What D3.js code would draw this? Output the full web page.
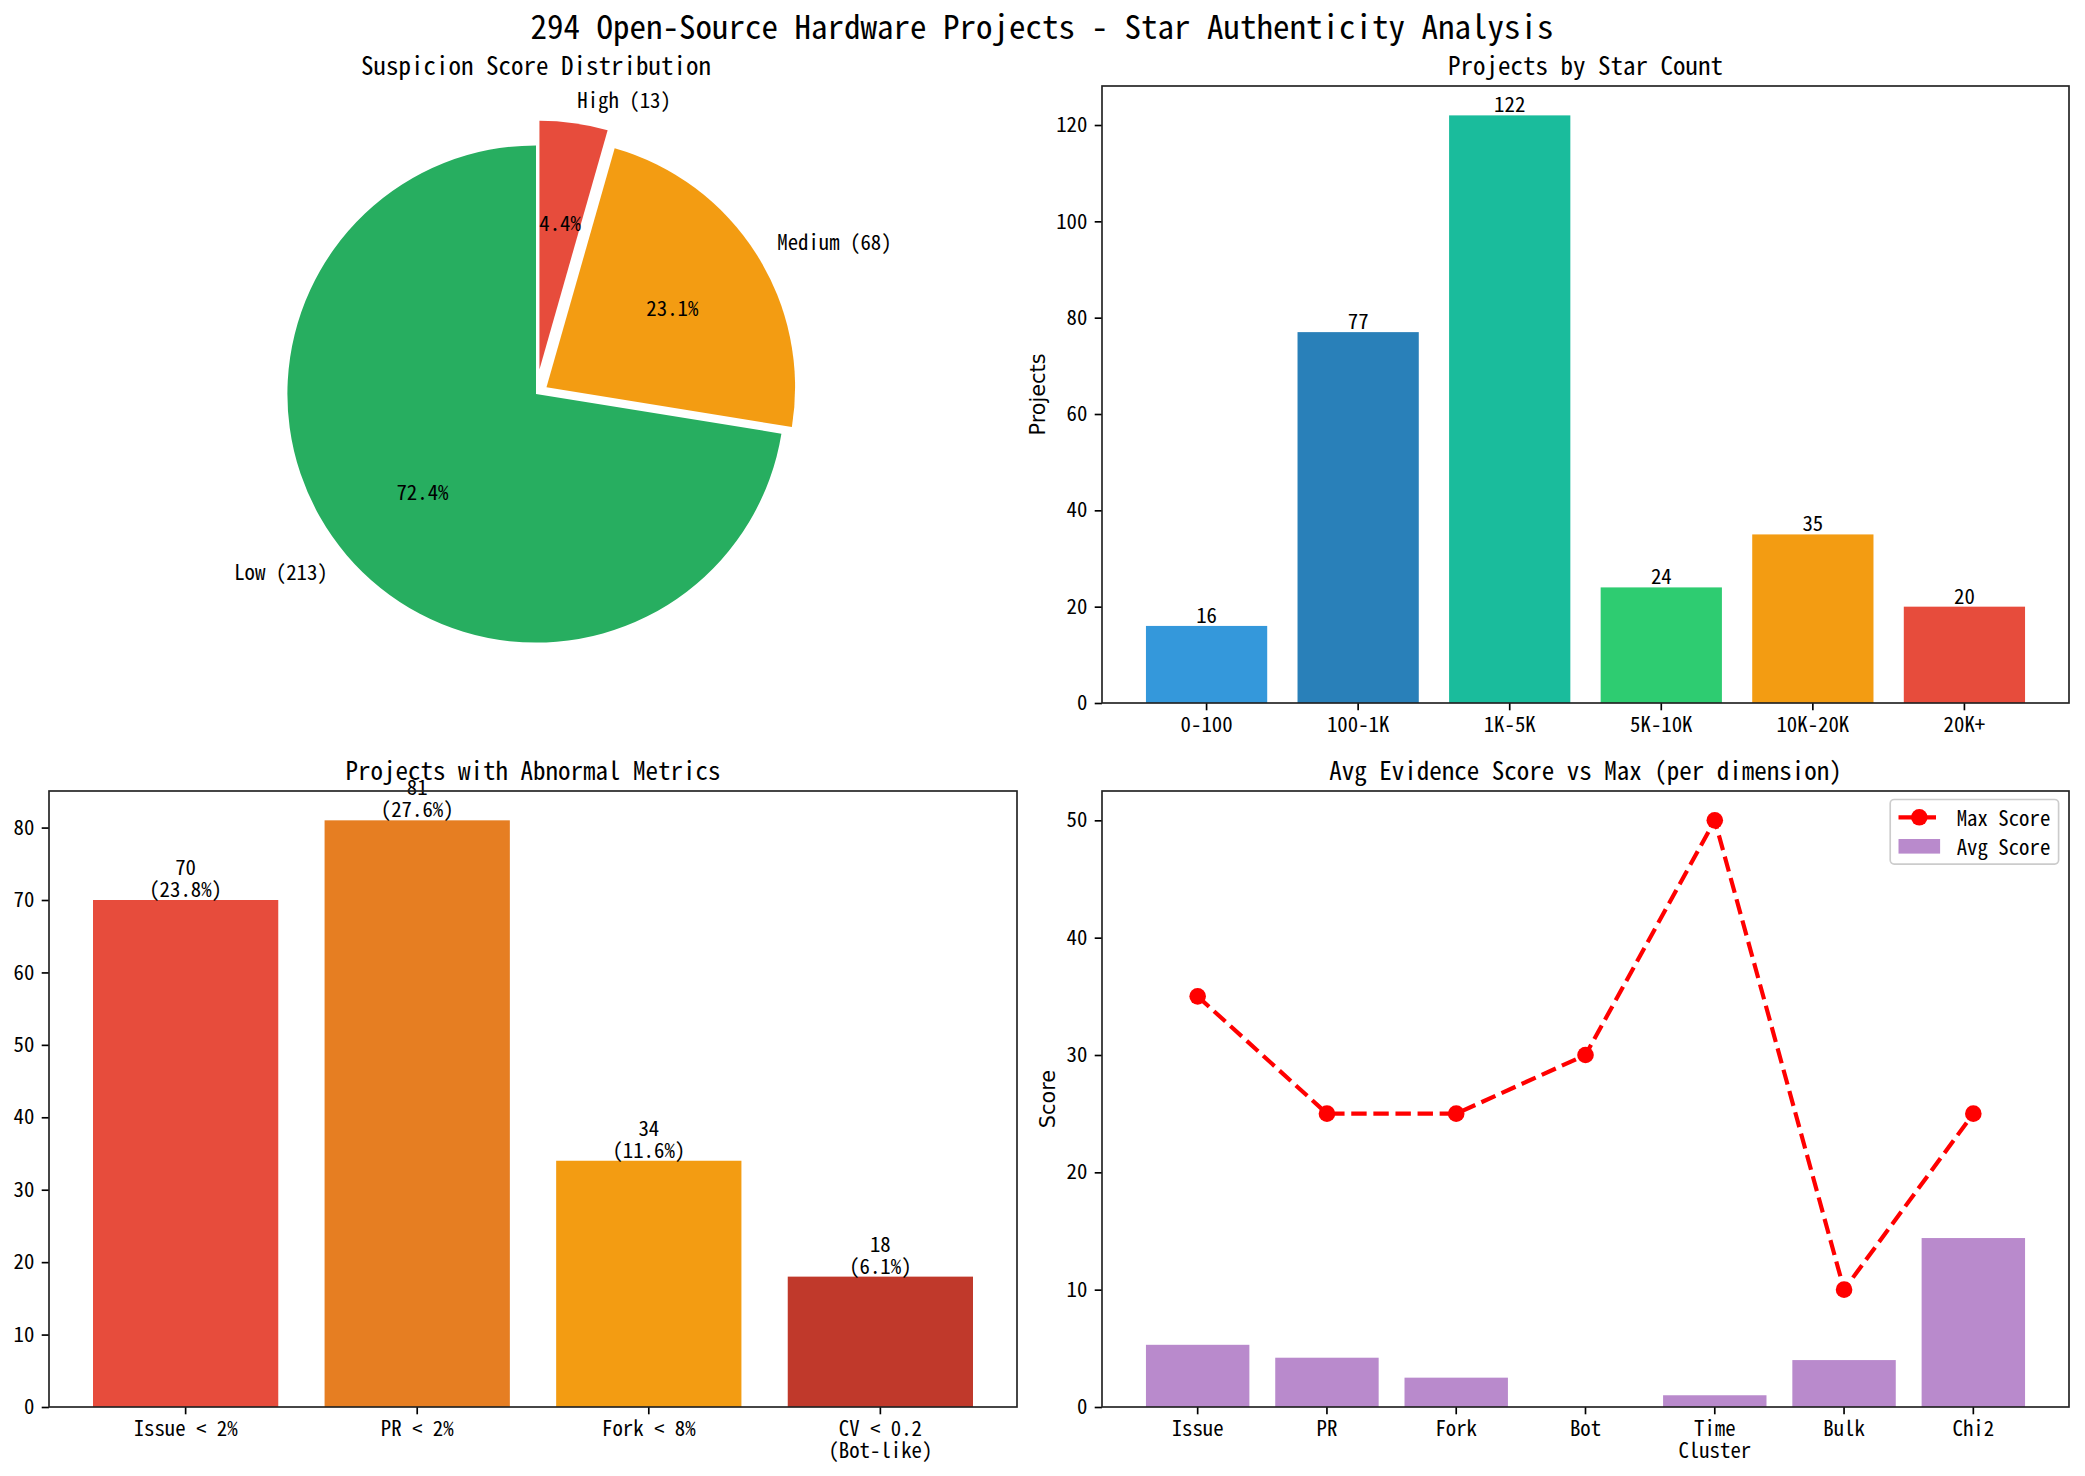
<!DOCTYPE html>
<html>
<head>
<meta charset="utf-8">
<script src="https://cdn.jsdelivr.net/npm/d3@7"></script>
<style>
  body { margin: 0; background: #fff; }
  text { font-family: 'Noto Sans Mono CJK SC', 'Noto Sans CJK SC', monospace; fill: #000; }
  .ylab { font-family: 'DejaVu Sans', sans-serif; }
</style>
</head>
<body>
<svg id="fig" width="2085" height="1476"></svg>
<script>
// ---- data ----
var riskLabels = ["Low", "Medium", "High"];
var riskCounts = [213, 68, 13];

var starBins = ["0-100", "100-1K", "1K-5K", "5K-10K", "10K-20K", "20K+"];
var starCounts = [16, 77, 122, 24, 35, 20];
var starTicks = [0, 20, 40, 60, 80, 100, 120];

var totalProjects = 294;
var abnormalNames = ["Issue < 2%", "PR < 2%", "Fork < 8%", "CV < 0.2\n(Bot-like)"];
var abnormalCounts = [70, 81, 34, 18];
var abnormalTicks = [0, 10, 20, 30, 40, 50, 60, 70, 80];

var dimNames = ["Issue", "PR", "Fork", "Bot", "Time\nCluster", "Bulk", "Chi2"];
var avgScores = [5.3, 4.2, 2.5, 0, 1.0, 4.0, 14.4];
var maxScores = [35, 25, 25, 30, 50, 10, 25];
var scoreTicks = [0, 10, 20, 30, 40, 50];

// ---- styles ----
var riskColors = ["#27ae60", "#f39c12", "#e74c3c"];
var riskExplode = [0, 0.05, 0.1];
var starColors = ["#3498db", "#2980b9", "#1abc9c", "#2ecc71", "#f39c12", "#e74c3c"];
var abnormalColors = ["#e74c3c", "#e67e22", "#f39c12", "#c0392b"];

var FS = 20.8, TITLE_FS = 25, TICK = 7.3, LINE = 22;
var svg = d3.select("#fig");

svg.append("text")
    .attr("x", 1042).attr("y", 25)
    .attr("text-anchor", "middle").attr("dominant-baseline", "central")
    .style("font-size", "33px").style("font-weight", 500)
    .text(totalProjects + " Open-Source Hardware Projects - Star Authenticity Analysis");

function multiline(sel) {
  sel.each(function() {
    var t = d3.select(this), parts = t.text().split("\n");
    if (parts.length < 2) return;
    t.text(null);
    parts.forEach(function(p, i) {
      t.append("tspan").attr("x", 0).attr("dy", i ? LINE : null).text(p);
    });
  });
}

function panel(box, cats, yMax, ticks, title) {
  var w = box.right - box.left, h = box.bottom - box.top, n = cats.length;
  var g = svg.append("g").attr("transform", "translate(" + box.left + "," + box.top + ")");
  var x = d3.scaleBand().domain(cats).range([0, w])
      .paddingInner(0.2).paddingOuter(0.05 * (n - 0.2));
  var y = d3.scaleLinear().domain([0, yMax * 1.05]).range([h, 0]);
  svg.append("text")
      .attr("x", box.left + w / 2).attr("y", box.top - 22)
      .attr("text-anchor", "middle").attr("dominant-baseline", "central")
      .style("font-size", TITLE_FS + "px").text(title);
  return {g: g, x: x, y: y, w: w, h: h, box: box};
}

function finishAxes(p, ticks, ylabel) {
  var xa = p.g.append("g")
      .attr("transform", "translate(0," + p.h + ")")
      .call(d3.axisBottom(p.x).tickSize(TICK).tickPadding(TICK).tickSizeOuter(0));
  var ya = p.g.append("g")
      .call(d3.axisLeft(p.y).tickValues(ticks).tickFormat(d3.format("d"))
        .tickSize(TICK).tickPadding(TICK).tickSizeOuter(0));
  [xa, ya].forEach(function(a) {
    a.select(".domain").remove();
    a.selectAll("line").attr("stroke", "#000").attr("stroke-width", 1.67);
    a.selectAll("text").style("font-size", FS + "px").attr("fill", "#000");
  });
  xa.selectAll("text").call(multiline);
  p.g.append("rect")
      .attr("width", p.w).attr("height", p.h)
      .attr("fill", "none").attr("stroke", "#222").attr("stroke-width", 1.67);
  if (ylabel) {
    var bb = ya.node().getBBox();
    p.g.append("text")
        .attr("class", "ylab")
        .attr("transform", "translate(" + (bb.x - 8.3 - 10) + "," + (p.h / 2) + ") rotate(-90)")
        .attr("text-anchor", "middle").attr("dominant-baseline", "central")
        .style("font-size", FS + "px").text(ylabel);
  }
}

// ---- pie ----
(function() {
  var cx = 536, cy = 394, R = 248.6;
  svg.append("text")
      .attr("x", cx).attr("y", 64)
      .attr("text-anchor", "middle").attr("dominant-baseline", "central")
      .style("font-size", TITLE_FS + "px").text("Suspicion Score Distribution");
  var total = d3.sum(riskCounts);
  var arcs = d3.pie().sort(null).startAngle(0).endAngle(-2 * Math.PI)(riskCounts);
  var arc = d3.arc().innerRadius(0).outerRadius(R);
  var g = svg.append("g").attr("transform", "translate(" + cx + "," + cy + ")");
  arcs.forEach(function(a, i) {
    var m = (a.startAngle + a.endAngle) / 2, dx = Math.sin(m), dy = -Math.cos(m);
    var e = riskExplode[i] * R;
    g.append("path")
        .attr("d", arc(a))
        .attr("transform", "translate(" + dx * e + "," + dy * e + ")")
        .attr("fill", riskColors[i]);
    var lr = (riskExplode[i] + 1.1) * R;
    g.append("text")
        .attr("x", dx * lr).attr("y", dy * lr)
        .attr("text-anchor", dx > 0 ? "start" : "end")
        .attr("dominant-baseline", "central")
        .style("font-size", FS + "px")
        .text(riskLabels[i] + " (" + riskCounts[i] + ")");
    var pr = (riskExplode[i] + 0.6) * R;
    g.append("text")
        .attr("x", dx * pr).attr("y", dy * pr)
        .attr("text-anchor", "middle").attr("dominant-baseline", "central")
        .style("font-size", FS + "px")
        .text(d3.format(".1f")(a.value / total * 100) + "%");
  });
})();

// ---- projects by star count ----
(function() {
  var p = panel({left: 1102, right: 2069, top: 86, bottom: 703}, starBins,
      d3.max(starCounts), starTicks, "Projects by Star Count");
  p.g.selectAll(".starBar")
    .data(starCounts)
    .enter().append("rect")
      .attr("class", "starBar")
      .attr("x", function(d, i) { return p.x(starBins[i]); })
      .attr("y", function(d) { return p.y(d); })
      .attr("width", p.x.bandwidth())
      .attr("height", function(d) { return p.h - p.y(d); })
      .attr("fill", function(d, i) { return starColors[i]; });
  p.g.selectAll(".starLbl")
    .data(starCounts)
    .enter().append("text")
      .attr("x", function(d, i) { return p.x(starBins[i]) + p.x.bandwidth() / 2; })
      .attr("y", function(d) { return p.y(d) - 3; })
      .attr("text-anchor", "middle")
      .style("font-size", FS + "px")
      .text(function(d) { return d; });
  finishAxes(p, starTicks, "Projects");
})();

// ---- abnormal metrics ----
(function() {
  var p = panel({left: 49, right: 1017, top: 791, bottom: 1407}, abnormalNames,
      d3.max(abnormalCounts), abnormalTicks, "Projects with Abnormal Metrics");
  p.g.selectAll(".abBar")
    .data(abnormalCounts)
    .enter().append("rect")
      .attr("x", function(d, i) { return p.x(abnormalNames[i]); })
      .attr("y", function(d) { return p.y(d); })
      .attr("width", p.x.bandwidth())
      .attr("height", function(d) { return p.h - p.y(d); })
      .attr("fill", function(d, i) { return abnormalColors[i]; });
  var lbl = p.g.selectAll(".abLbl")
    .data(abnormalCounts)
    .enter().append("text")
      .attr("text-anchor", "middle")
      .style("font-size", FS + "px");
  lbl.each(function(d, i) {
    var t = d3.select(this), cx = p.x(abnormalNames[i]) + p.x.bandwidth() / 2;
    t.append("tspan").attr("x", cx).attr("y", p.y(d) - 3 - LINE).text(d);
    t.append("tspan").attr("x", cx).attr("y", p.y(d) - 3)
      .text("(" + d3.format(".1f")(d / totalProjects * 100) + "%)");
  });
  finishAxes(p, abnormalTicks, null);
})();

// ---- evidence score ----
(function() {
  var p = panel({left: 1102, right: 2069, top: 791, bottom: 1407}, dimNames,
      d3.max(maxScores), scoreTicks, "Avg Evidence Score vs Max (per dimension)");
  var cxOf = function(i) { return p.x(dimNames[i]) + p.x.bandwidth() / 2; };
  p.g.selectAll(".avgBar")
    .data(avgScores)
    .enter().append("rect")
      .attr("x", function(d, i) { return p.x(dimNames[i]); })
      .attr("y", function(d) { return p.y(d); })
      .attr("width", p.x.bandwidth())
      .attr("height", function(d) { return p.h - p.y(d); })
      .attr("fill", "#9b59b6").attr("fill-opacity", 0.7);
  var line = d3.line().x(function(d, i) { return cxOf(i); }).y(function(d) { return p.y(d); });
  p.g.append("path")
      .datum(maxScores)
      .attr("d", line)
      .attr("fill", "none").attr("stroke", "red")
      .attr("stroke-width", 4.17).attr("stroke-dasharray", "15.4,6.7");
  p.g.selectAll(".maxPt")
    .data(maxScores)
    .enter().append("circle")
      .attr("cx", function(d, i) { return cxOf(i); })
      .attr("cy", function(d) { return p.y(d); })
      .attr("r", 8.3).attr("fill", "red");
  finishAxes(p, scoreTicks, "Score");

  // legend
  var pad = 8.3, hl = 41.6, htp = 16.6, rowH = 19, ls = 10;
  var lg = p.g.append("g");
  var labels = ["Max Score", "Avg Score"];
  var texts = labels.map(function(l) {
    return lg.append("text")
        .attr("dominant-baseline", "central")
        .style("font-size", FS + "px").text(l);
  });
  var tw = d3.max(texts, function(t) { return t.node().getComputedTextLength(); });
  var bw = pad * 2 + hl + htp + tw, bh = pad * 2 + rowH * 2 + ls;
  var bx = p.w - 10.4 - bw, by = 8.5;
  lg.insert("rect", ":first-child")
      .attr("x", bx).attr("y", by).attr("width", bw).attr("height", bh)
      .attr("rx", 4).attr("fill", "#fff").attr("fill-opacity", 0.8)
      .attr("stroke", "#ccc").attr("stroke-width", 1.67);
  var r0 = by + pad + rowH / 2, r1 = r0 + rowH + ls;
  lg.append("line")
      .attr("x1", bx + pad).attr("x2", bx + pad + hl).attr("y1", r0).attr("y2", r0)
      .attr("stroke", "red").attr("stroke-width", 4.17).attr("stroke-dasharray", "15.4,6.7");
  lg.append("circle").attr("cx", bx + pad + hl / 2).attr("cy", r0).attr("r", 8.3).attr("fill", "red");
  lg.append("rect")
      .attr("x", bx + pad).attr("y", r1 - 7.3).attr("width", hl).attr("height", 14.6)
      .attr("fill", "#9b59b6").attr("fill-opacity", 0.7);
  texts[0].attr("x", bx + pad + hl + htp).attr("y", r0);
  texts[1].attr("x", bx + pad + hl + htp).attr("y", r1);
})();
</script>
</body>
</html>
